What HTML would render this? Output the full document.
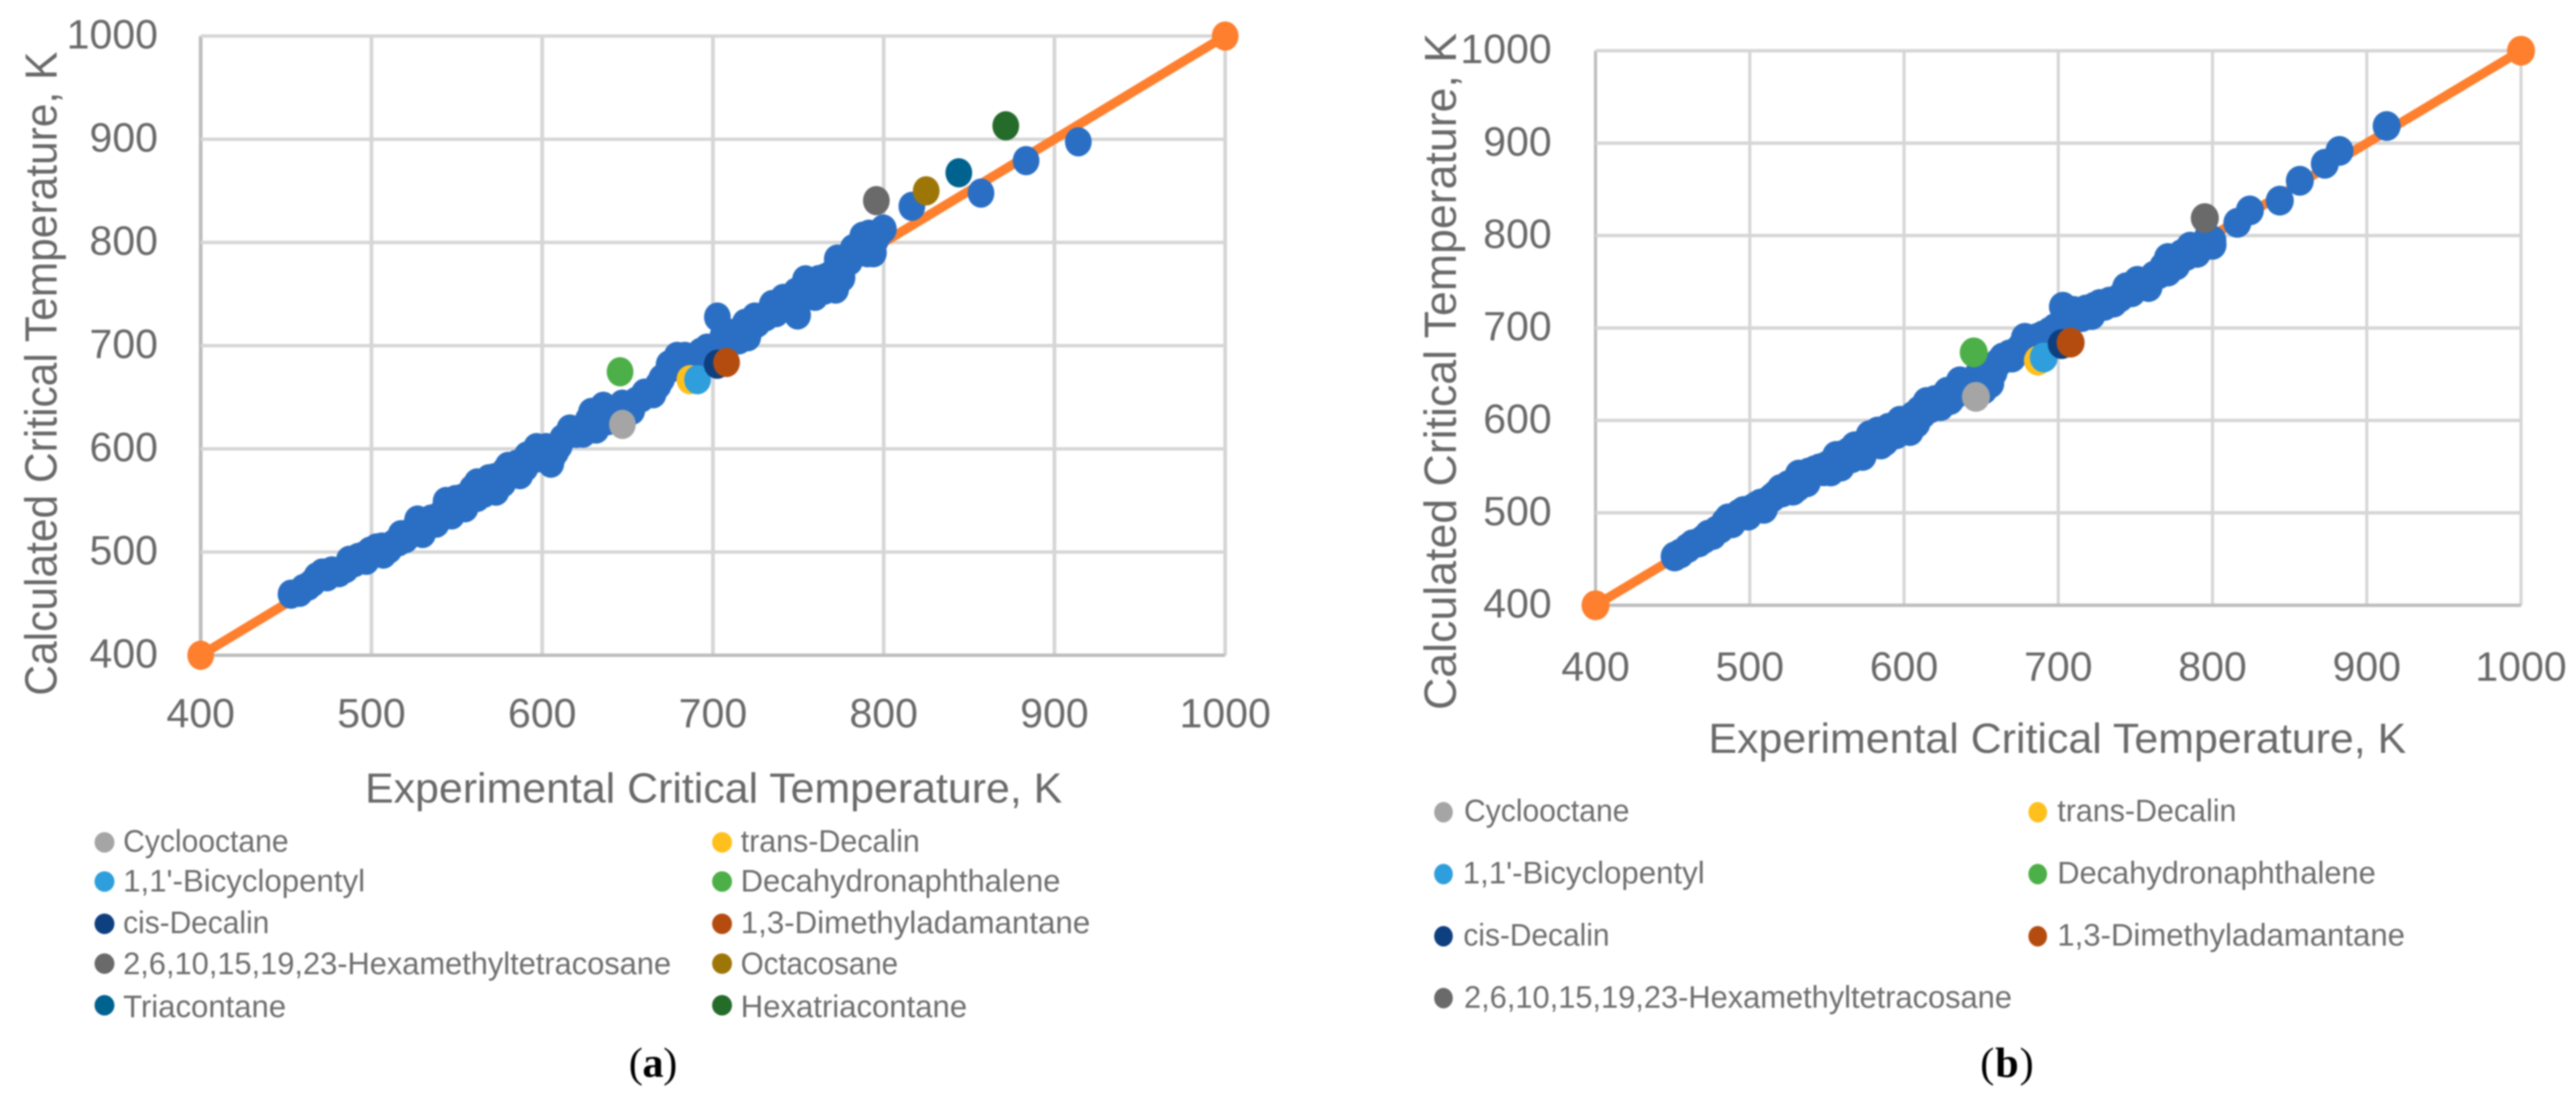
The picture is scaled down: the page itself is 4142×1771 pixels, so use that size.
<!DOCTYPE html>
<html lang="en">
<head>
<meta charset="utf-8">
<title>Calculated vs experimental critical temperature</title>
<style>
html,body{margin:0;padding:0;background:#fff;width:4142px;height:1771px;overflow:hidden}
svg{display:block}
#blurred{filter:blur(1.3px)}
text{font-family:"Liberation Sans",sans-serif;fill:#696969}
.tick{font-size:66px}
.axis-title{font-size:68px}
.legend{font-size:50px;fill:#6e6e6e}
.caption{font-family:"Liberation Serif",serif;font-size:68px;fill:#000}
</style>
</head>
<body>
<svg id="figure" xmlns="http://www.w3.org/2000/svg" width="4142" height="1771" viewBox="0 0 4142 1771">
<g id="blurred">
  <g id="chart-a"></g>
  <g id="chart-b"></g>

  <text class="axis-title" x="587" y="1291" textLength="1121" lengthAdjust="spacingAndGlyphs">Experimental Critical Temperature, K</text>
  <text class="axis-title" transform="translate(91 1119) rotate(-90)" style="font-size:72px" textLength="1036" lengthAdjust="spacingAndGlyphs">Calculated Critical Temperature, K</text>

  <text class="axis-title" x="2747" y="1211" textLength="1122" lengthAdjust="spacingAndGlyphs">Experimental Critical Temperature, K</text>
  <text class="axis-title" transform="translate(2341 1142) rotate(-90)" style="font-size:72px" textLength="1089" lengthAdjust="spacingAndGlyphs">Calculated Critical Temperature, K</text>

  <g>
    <g><ellipse cx="168" cy="1355" rx="16" ry="16.5" fill="#a5a5a5"/><text class="legend" x="198" y="1370" textLength="266" lengthAdjust="spacingAndGlyphs">Cyclooctane</text></g>
    <g><ellipse cx="1161" cy="1355" rx="16" ry="16.5" fill="#ffc01d"/><text class="legend" x="1191" y="1370" textLength="288" lengthAdjust="spacingAndGlyphs">trans-Decalin</text></g>
    <g><ellipse cx="168" cy="1418" rx="16" ry="16.5" fill="#2e9fdc"/><text class="legend" x="198" y="1434" textLength="389" lengthAdjust="spacingAndGlyphs">1,1'-Bicyclopentyl</text></g>
    <g><ellipse cx="1161" cy="1418" rx="16" ry="16.5" fill="#4caf47"/><text class="legend" x="1191" y="1434" textLength="514" lengthAdjust="spacingAndGlyphs">Decahydronaphthalene</text></g>
    <g><ellipse cx="168" cy="1486" rx="16" ry="16.5" fill="#0e4080"/><text class="legend" x="198" y="1501" textLength="235" lengthAdjust="spacingAndGlyphs">cis-Decalin</text></g>
    <g><ellipse cx="1161" cy="1486" rx="16" ry="16.5" fill="#b54c0f"/><text class="legend" x="1191" y="1501" textLength="562" lengthAdjust="spacingAndGlyphs">1,3-Dimethyladamantane</text></g>
    <g><ellipse cx="168" cy="1550" rx="16" ry="16.5" fill="#6a6a6a"/><text class="legend" x="198" y="1567" textLength="881" lengthAdjust="spacingAndGlyphs">2,6,10,15,19,23-Hexamethyltetracosane</text></g>
    <g><ellipse cx="1161" cy="1550" rx="16" ry="16.5" fill="#9e7608"/><text class="legend" x="1191" y="1567" textLength="253" lengthAdjust="spacingAndGlyphs">Octacosane</text></g>
    <g><ellipse cx="168" cy="1617" rx="16" ry="16.5" fill="#00628f"/><text class="legend" x="198" y="1636" textLength="262" lengthAdjust="spacingAndGlyphs">Triacontane</text></g>
    <g><ellipse cx="1161" cy="1617" rx="16" ry="16.5" fill="#256b2a"/><text class="legend" x="1191" y="1636" textLength="364" lengthAdjust="spacingAndGlyphs">Hexatriacontane</text></g>
  </g>

  <g>
    <g><ellipse cx="2321" cy="1306.5" rx="15" ry="16.5" fill="#a5a5a5"/><text class="legend" x="2354" y="1321" textLength="266" lengthAdjust="spacingAndGlyphs">Cyclooctane</text></g>
    <g><ellipse cx="3276.5" cy="1306.5" rx="15" ry="16.5" fill="#ffc01d"/><text class="legend" x="3308" y="1321" textLength="288" lengthAdjust="spacingAndGlyphs">trans-Decalin</text></g>
    <g><ellipse cx="2321" cy="1406" rx="15" ry="16.5" fill="#2e9fdc"/><text class="legend" x="2352" y="1421" textLength="389" lengthAdjust="spacingAndGlyphs">1,1'-Bicyclopentyl</text></g>
    <g><ellipse cx="3276.5" cy="1406" rx="15" ry="16.5" fill="#4caf47"/><text class="legend" x="3308" y="1421" textLength="512" lengthAdjust="spacingAndGlyphs">Decahydronaphthalene</text></g>
    <g><ellipse cx="2321" cy="1506" rx="15" ry="16.5" fill="#0e4080"/><text class="legend" x="2353" y="1521" textLength="235" lengthAdjust="spacingAndGlyphs">cis-Decalin</text></g>
    <g><ellipse cx="3276.5" cy="1506" rx="15" ry="16.5" fill="#b54c0f"/><text class="legend" x="3308" y="1521" textLength="559" lengthAdjust="spacingAndGlyphs">1,3-Dimethyladamantane</text></g>
    <g><ellipse cx="2321" cy="1605.5" rx="15" ry="16.5" fill="#6a6a6a"/><text class="legend" x="2354" y="1621" textLength="881" lengthAdjust="spacingAndGlyphs">2,6,10,15,19,23-Hexamethyltetracosane</text></g>
  </g>

  <text class="caption" x="1011" y="1732" textLength="78">(<tspan font-weight="bold">a</tspan>)</text>
  <text class="caption" x="3184" y="1732" textLength="86">(<tspan font-weight="bold">b</tspan>)</text>
</g>
</svg>

<script>
const xTickLabels = [400, 500, 600, 700, 800, 900, 1000];
const yTickLabels = [400, 500, 600, 700, 800, 900, 1000];
const parityLine = [400, 1000];

const compoundNames = ['cyclooctane', 'trans-decalin', 'bicyclopentyl', 'decahydronaphthalene', 'cis-decalin', 'dimethyladamantane', 'hexamethyltetracosane', 'octacosane', 'triacontane', 'hexatriacontane'];

const compoundExpA = [647, 686.5, 691, 645.6, 702.5, 708, 795.7, 824.9, 844, 871.5];
const compoundCalcA = [623.7, 667, 667, 674.7, 682, 683.7, 840.5, 850, 867.5, 913];

const compoundExpB = [646.6, 686.8, 690.6, 645.2, 702.3, 708, 795];
const compoundCalcB = [625.5, 664.7, 668.1, 673.6, 682.6, 684.2, 818.9];

const dataExpA = [452.9, 458, 460.1, 465.7, 471.2, 476.8, 490.1, 492.2, 499.1, 506.1, 510.3, 517.3, 524.2, 527, 532.6, 541, 543.7, 549.3, 549.3, 554.9, 557.7, 561.9, 566, 568.8, 573, 575.8, 580, 587, 591.1, 596.7, 596.7, 602.3, 605.1, 607.9, 616.2, 623.9, 628.8, 631.6, 635.8, 638.5, 646.9, 652.5, 658.1, 664.1, 665, 674.3, 674.3, 679, 683.6, 692.9, 692.9, 696.6, 702.6, 705.9, 705.9, 709.6, 715.2, 718.9, 720.4, 724.5, 728.2, 734.7, 739.4, 741.2, 748.7, 749.6, 754.2, 755.2, 759.8, 763.5, 765.4, 771.9, 772.8, 772.8, 775.6, 782.1, 787.7, 790.5, 791.4, 795.1, 799.8, 816.5, 857, 883.4, 914,
  463, 468, 474, 481, 485, 487, 495, 497, 503, 507, 513, 516, 520, 522, 528, 530, 535, 538, 545, 547, 552, 553, 556, 559, 562, 565, 570, 572, 577, 578, 583, 585, 590, 593, 600, 603, 606, 610, 612, 620, 625, 627, 633, 640, 643, 648, 655, 660, 668, 670, 677,
  686, 690, 698, 701, 708, 712, 714, 722, 726, 731, 733, 737, 744, 746, 751, 753, 757, 760, 762, 766, 768, 770, 774, 778, 780, 785, 788, 793, 797, 794];
const dataCalcA = [459.2, 461, 464.6, 470.6, 479.7, 481.7, 489.7, 494.7, 500.8, 504.8, 502.8, 516.8, 520.8, 531, 525.9, 536.9, 549, 542.9, 550.9, 542.9, 555, 567, 557, 571, 559, 571, 583, 575, 593.1, 601.2, 591, 601.2, 586.1, 597.1, 619.2, 615.2, 635.3, 619.2, 641.3, 627.3, 643.3, 637.3, 649.4, 655.4, 653.4, 681.5, 677.5, 689.6, 689.6, 693.6, 685.5, 697.6, 727.7, 709.6, 701.6, 711.6, 705.6, 721.7, 708.6, 727.7, 725.7, 739.8, 737.7, 745.8, 751.8, 729.7, 763.8, 751.8, 747.8, 761.8, 753.8, 754.8, 783.9, 773.9, 765.9, 794, 806, 790, 808, 802, 813, 835, 847.8, 879.3, 897.5,
  467, 476, 476, 480, 484, 492, 496, 492, 504, 498, 508, 510, 513, 517, 524, 518, 532, 528, 541, 536, 548, 552, 548, 561, 553, 566, 565, 572, 567, 578, 577, 585, 582, 590, 597, 592, 592, 603, 610, 615, 622, 628, 632, 636, 638, 640, 646, 654, 662, 668, 684,
  684, 687, 691, 695, 703, 712, 707, 716, 722, 728, 733, 732, 742, 738, 745, 758, 757, 757, 764, 766, 761, 770, 772, 785, 782, 793, 798, 796, 808, 790];

const dataExpB = [451.3, 459.7, 470.5, 473.2, 478.6, 484, 488.5, 493, 504.7, 509.2, 514.6, 520, 530.9, 531.8, 538.1, 545.2, 552.5, 556, 564.2, 572.2, 573.2, 577.7, 587.6, 592, 597.5, 603.8, 610.1, 614.6, 623.6, 628, 629.9, 636.2, 647.9, 651.5, 655, 655.9, 661.2, 668.5, 673.9, 678.4, 686.5, 694.6, 703, 706.3, 709.9, 715.3, 721.6, 723.4, 733.3, 736, 747.7, 751.3, 758.5, 762.1, 771.1, 771.1, 776.5, 785.5, 790, 792.7, 799.9, 816.1, 824.2, 843.6, 856.6, 872.8, 882.3, 912.9,
  455, 463, 467, 476, 481, 486, 490, 496, 499, 502, 507, 511, 517, 521, 525, 528, 535, 537, 542, 548, 550, 555, 559, 561, 566, 568, 570, 575, 580, 583, 585, 590, 595, 600, 606, 608, 612, 617, 620, 626, 633, 638, 642, 645, 650, 658, 664, 670, 676, 681, 690, 698, 707, 712, 718, 727, 730, 740, 744, 749, 755, 760, 765, 768, 774, 780, 783, 788, 795, 797, 800];
const dataCalcB = [452.8, 461.8, 471.9, 476.4, 480.9, 490, 488.7, 498.8, 507.8, 504.4, 516.7, 525.7, 527.9, 541.4, 543.6, 548.1, 544.8, 561.6, 566, 570.5, 561.6, 584, 577.3, 590.7, 599.7, 588.5, 610.9, 619.9, 615.4, 631, 622.1, 642.3, 649, 633.3, 653.5, 640, 662.5, 671.5, 675.9, 689.4, 689.4, 696.1, 723, 707.3, 718.5, 711.8, 714, 723, 728.6, 727.5, 738.7, 751, 744.3, 756.6, 775.7, 761.1, 767.8, 788, 781.3, 788, 794.7, 813.8, 827.2, 837.8, 859.3, 877.7, 891.6, 918.5,
  456, 466, 468, 476, 483, 494, 493, 502, 497, 505, 510, 512, 520, 522, 530, 524, 537, 533, 546, 545, 551, 556, 550, 563, 559, 572, 566, 576, 580, 588, 574, 592, 585, 598, 605, 597, 607, 613, 622, 625, 628, 636, 640, 635, 645, 652, 668, 668, 680, 682, 692, 700, 712, 715, 720, 726, 724, 733, 744, 745, 750, 752, 758, 766, 772, 780, 778, 786, 792, 798, 790];

const SVGNS = 'http://www.w3.org/2000/svg';
const compoundColors = {
  'cyclooctane': '#a5a5a5', 'trans-decalin': '#ffc01d', 'bicyclopentyl': '#2e9fdc',
  'decahydronaphthalene': '#4caf47', 'cis-decalin': '#0e4080', 'dimethyladamantane': '#b54c0f',
  'hexamethyltetracosane': '#6a6a6a', 'octacosane': '#9e7608', 'triacontane': '#00628f',
  'hexatriacontane': '#256b2a'
};
/* draw order: later names paint on top */
const paintOrder = ['trans-decalin', 'bicyclopentyl', 'cyclooctane', 'decahydronaphthalene', 'cis-decalin', 'dimethyladamantane', 'hexamethyltetracosane', 'octacosane', 'triacontane', 'hexatriacontane'];

function axisX(frame, v) { return frame.left + (v - 400) * (frame.right - frame.left) / 600; }
function axisY(frame, v) { return frame.bottom - (v - 400) * (frame.bottom - frame.top) / 600; }

function drawLine(parent, x1, y1, x2, y2, color, width) {
  const el = document.createElementNS(SVGNS, 'line');
  el.setAttribute('x1', x1);
  el.setAttribute('y1', y1);
  el.setAttribute('x2', x2);
  el.setAttribute('y2', y2);
  el.setAttribute('stroke', color);
  el.setAttribute('stroke-width', width);
  parent.appendChild(el);
  return el;
}

function drawDot(parent, frame, xv, yv, color) {
  const el = document.createElementNS(SVGNS, 'ellipse');
  el.setAttribute('cx', axisX(frame, xv));
  el.setAttribute('cy', axisY(frame, yv));
  el.setAttribute('rx', frame.rx);
  el.setAttribute('ry', frame.ry);
  el.setAttribute('fill', color);
  parent.appendChild(el);
  return el;
}

function drawText(parent, x, y, str, anchor) {
  const el = document.createElementNS(SVGNS, 'text');
  el.setAttribute('x', x);
  el.setAttribute('y', y);
  el.setAttribute('class', 'tick');
  el.setAttribute('text-anchor', anchor);
  el.textContent = str;
  parent.appendChild(el);
  return el;
}

function drawChart(group, frame, dataX, dataY, compX, compY) {
  xTickLabels.forEach(function (t) {
    const x = axisX(frame, t);
    const axis = t === 400;
    const gl = drawLine(group, x, frame.top, x, frame.bottom, axis ? '#bdbdbd' : '#d6d6d6', frame.gridV);
    
    
    const lab = drawText(group, x, frame.xTickY, String(t), 'middle');
    
    
  });
  yTickLabels.forEach(function (t) {
    const y = axisY(frame, t);
    const axis = t === 400;
    const gl = drawLine(group, frame.left, y, frame.right, y, axis ? '#bdbdbd' : '#d6d6d6', 5.5);
    
    
    const lab = drawText(group, frame.yTickX, y + 20, String(t), 'end');
    
    
  });

  const ref = drawLine(group, axisX(frame, parityLine[0]), axisY(frame, parityLine[0]), axisX(frame, parityLine[1]), axisY(frame, parityLine[1]), '#fe7f2d', 15);
  
  
  parityLine.forEach(function (v) {
    const end = drawDot(group, frame, v, v, '#fe7f2d');
    
    
  });

  dataX.forEach(function (xv, i) {
    const pt = drawDot(group, frame, xv, dataY[i], '#2a6fc4');
    
    
  });

  paintOrder.forEach(function (name) {
    const i = compoundNames.indexOf(name);
    if (i >= compX.length) return;
    const pt = drawDot(group, frame, compX[i], compY[i], compoundColors[name]);
    
    
  });
}

const frameA = { left: 322.7, right: 1970, top: 58, bottom: 1054, rx: 21.5, ry: 23.5, gridV: 6, xTickY: 1170, yTickX: 254 };
const frameB = { left: 2565.5, right: 4053.6, top: 81.6, bottom: 973.6, rx: 22.5, ry: 24, gridV: 5, xTickY: 1095, yTickX: 2495 };

drawChart(document.getElementById('chart-a'), frameA, dataExpA, dataCalcA, compoundExpA, compoundCalcA);
drawChart(document.getElementById('chart-b'), frameB, dataExpB, dataCalcB, compoundExpB, compoundCalcB);
</script>
</body>
</html>
